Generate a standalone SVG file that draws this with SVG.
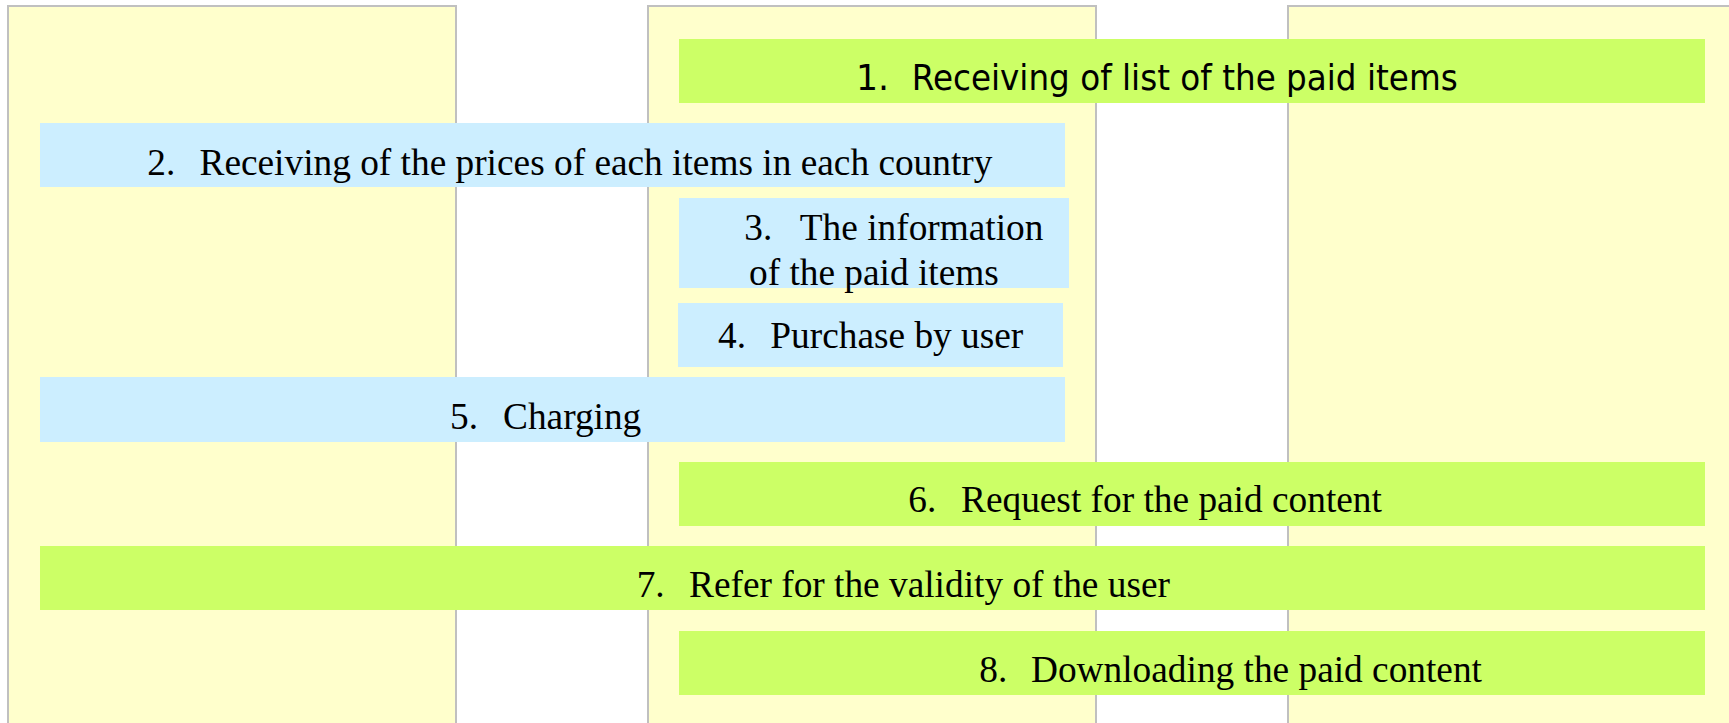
<svg xmlns="http://www.w3.org/2000/svg" width="1729" height="723" viewBox="0 0 1729 723">
<style>
.lane{fill:#ffffcc;stroke:#c0c0c0;stroke-width:2}
.g{fill:#ccff66}
.b{fill:#cceeff}
.t{font-family:"Liberation Serif","Times New Roman",serif;font-size:37.33px;fill:#000}
.s{font-family:"DejaVu Sans","Liberation Sans",sans-serif;font-size:34.67px;fill:#000}
</style>
<g id="lanes">
<rect id="lane1" class="lane" x="8" y="6" width="448" height="740"/>
<rect id="lane2" class="lane" x="648" y="6" width="448" height="740"/>
<rect id="lane3" class="lane" x="1288" y="6" width="448" height="740"/>
</g>
<g id="connectors"></g>
<g id="step1"><rect class="g" x="679" y="39" width="1026" height="64"/>
<text class="s" x="856" y="90">1.</text><text class="s" x="911.7" y="90" textLength="546" lengthAdjust="spacingAndGlyphs">Receiving of list of the paid items</text></g>
<g id="step2"><rect class="b" x="40" y="123" width="1025" height="64"/>
<text class="t" x="147.3" y="175">2.</text><text class="t" x="199.5" y="175">Receiving of the prices of each items in each country</text></g>
<g id="step3"><rect class="b" x="679" y="198" width="390" height="90"/>
<text class="t" x="744.3" y="240">3.</text><text class="t" x="799.8" y="240">The information</text>
<text class="t" x="749" y="285">of the paid items</text></g>
<g id="step4"><rect class="b" x="678" y="303" width="385" height="64"/>
<text class="t" x="718" y="348.3">4.</text><text class="t" x="770.3" y="348.3">Purchase by user</text></g>
<g id="step5"><rect class="b" x="40" y="377" width="1025" height="65"/>
<text class="t" x="450" y="428.5">5.</text><text class="t" x="503" y="428.5">Charging</text></g>
<g id="step6"><rect class="g" x="679" y="462" width="1026" height="64"/>
<text class="t" x="908.3" y="512.3">6.</text><text class="t" x="961" y="512.3">Request for the paid content</text></g>
<g id="step7"><rect class="g" x="40" y="546" width="1665" height="64"/>
<text class="t" x="636.7" y="597.3">7.</text><text class="t" x="689" y="597.3">Refer for the validity of the user</text></g>
<g id="step8"><rect class="g" x="679" y="631" width="1026" height="64"/>
<text class="t" x="979.3" y="682.3">8.</text><text class="t" x="1031" y="682.3">Downloading the paid content</text></g>
</svg>
